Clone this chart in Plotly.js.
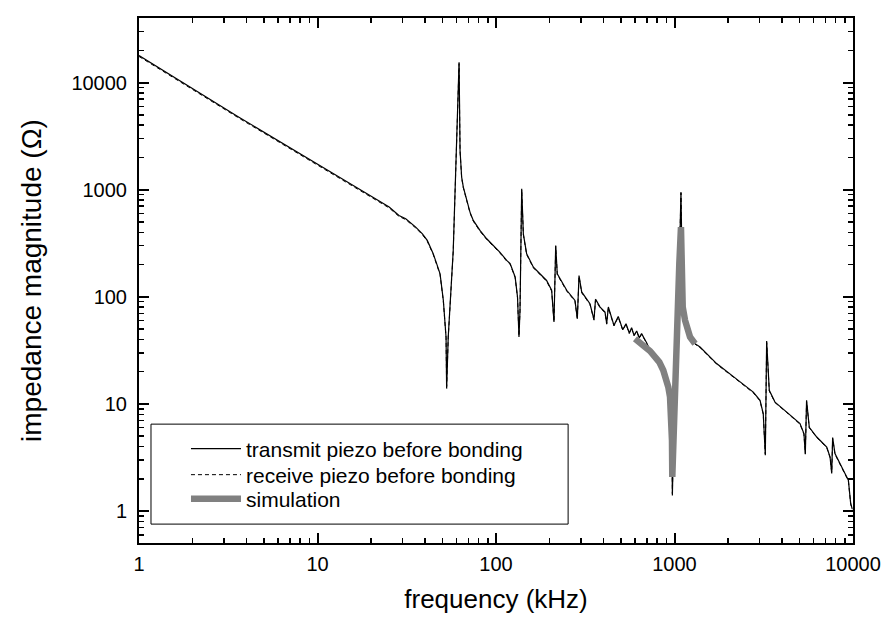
<!DOCTYPE html>
<html>
<head>
<meta charset="utf-8">
<script src="https://cdn.plot.ly/plotly-3.0.1.min.js"></script>
<style>html,body{margin:0;padding:0;background:#fff;}#chart{width:885px;height:617px;}</style>
</head>
<body>
<div id="chart"></div>
<script>
// frequency (kHz) and impedance magnitude (ohm)
const freq = [1, 3.63, 13.2, 20.3, 25.2, 28.6, 31.2, 35.5, 38.7, 41.2,
  44.5, 46.5, 48.6, 50.7, 52.5, 52.9, 54.0, 57.6, 60.2, 62.1,
  62.9, 64.2, 65.6, 68.5, 71.5, 74.6, 81.3, 88.7, 96.6, 105,
  114.8, 120, 128, 132, 134.5, 136.3, 139.3, 142.3, 148.5, 162,
  192, 205, 211.3, 216, 220.4, 249, 277, 285.5, 291.8, 302,
  336, 354, 361, 383, 408, 417, 426, 444, 458, 484,
  506, 513, 535, 558, 575, 593, 614, 635, 654, 699,
  729, 778, 822, 865, 896, 923, 944, 952, 968, 973,
  993, 1028, 1064, 1087, 1102, 1112, 1146, 1183, 1222, 1303,
  1390, 1722, 2275, 2763, 3013, 3142, 3227, 3283, 3396, 3656,
  4254, 5047, 5311, 5405, 5495, 5690, 6264, 7125, 7437, 7600,
  7690, 7925, 8830, 9420, 9710, 9900];

const transmitZ = [17860, 4745, 1309, 851, 687, 574, 535, 447, 387, 336,
  252, 204, 164, 92.5, 42.1, 13.9, 42.1, 271, 2323, 15460,
  2323, 1309, 1055, 793, 617, 516, 416, 348, 301, 261,
  219, 204, 153, 99.3, 42.1, 75.5, 1019, 387, 252, 189,
  142, 115, 58.1, 301, 164, 115, 92.5, 62.5, 158, 111,
  86.1, 61.1, 95, 80.2, 71.9, 56.1, 80.2, 64.7, 54.1, 65.6,
  54.1, 49.3, 56.1, 45.9, 51.5, 43.7, 47.9, 41.5, 45.3, 37.1,
  31.5, 27.4, 24.6, 20.6, 17.8, 14.4, 11.6, 9.35, 4.57, 1.40,
  8.11, 48.6, 204, 948, 115, 80.2, 60.3, 48.6, 42.1, 36.5,
  34.0, 23.8, 16.6, 12.9, 10.8, 8.11, 3.32, 38.6, 13.4, 10.4,
  8.39, 6.55, 5.28, 3.39, 10.8, 6.05, 4.91, 3.96, 3.20, 2.24,
  4.85, 3.44, 2.40, 1.94, 1.17, 1.05];

const receiveZ = [17500, 4650, 1285, 835, 675, 563, 525, 439, 380, 330,
  248, 200, 161, 91, 41.5, 14.5, 41.5, 266, 2280, 15000,
  2280, 1290, 1040, 780, 607, 508, 409, 343, 296, 257,
  215, 201, 151, 98, 43, 74, 1000, 380, 248, 186,
  140, 113, 58.5, 295, 161, 113, 91, 62, 155, 109,
  85, 60.5, 93, 79, 71, 55.5, 79, 64, 53.5, 64.5,
  53.5, 48.8, 55.5, 45.4, 51, 43.3, 47.4, 41.1, 44.8, 36.7,
  31.1, 27.1, 24.3, 20.4, 17.6, 14.2, 11.4, 9.2, 4.5, 1.45,
  8.0, 48, 201, 930, 113, 79, 59.6, 48.1, 41.6, 36.1,
  33.6, 23.5, 16.4, 12.7, 10.7, 8.0, 3.4, 37.5, 13.2, 10.3,
  8.3, 6.48, 5.22, 3.45, 10.5, 5.98, 4.86, 3.92, 3.17, 2.3,
  4.75, 3.4, 2.37, 1.92, 1.16, 1.04];

const simFreq = [601, 641, 684, 729, 778, 822, 865, 896, 923, 944, 952, 968, 972,
  993, 1028, 1064, 1087, 1102, 1112, 1146, 1183, 1222, 1303];
const simZ = [40.6, 37.8, 34.0, 31.2, 27.4, 24.6, 20.6, 17.8, 14.4, 11.6, 9.35, 4.57, 2.08,
  8.11, 48.6, 204, 447, 115, 80.2, 60.3, 48.6, 42.1, 36.5];

const tickVals = [1, 10, 100, 1000, 10000];
const tickText = ['1', '10', '100', '1000', '10000'];
const seriesNames = ['transmit piezo before bonding', 'receive piezo before bonding', 'simulation'];

const FONT = 'Liberation Sans, Arial, sans-serif';

const traces = [
  {x: freq, y: transmitZ, type: 'scatter', mode: 'lines', name: seriesNames[0], legend: 'legend',
   line: {color: '#000', width: 1.2}},
  {x: freq, y: receiveZ, type: 'scatter', mode: 'lines', name: seriesNames[1], legend: 'legend2',
   line: {color: '#000', width: 1, dash: '4px,3px'}},
  {x: simFreq, y: simZ, type: 'scatter', mode: 'lines', name: seriesNames[2], legend: 'legend3',
   line: {color: '#808080', width: 6.5}}
];

function axis(title, range) {
  return {
    type: 'log', range: range, showgrid: false, zeroline: false,
    showline: true, linecolor: '#000', linewidth: 2, mirror: 'ticks',
    ticks: 'inside', ticklen: 10, tickwidth: 2, tickcolor: '#000',
    tickvals: tickVals, ticktext: tickText,
    tickfont: {family: FONT, size: 20, color: '#000'},
    minor: {ticks: 'inside', ticklen: 5, tickwidth: 1.5, tickcolor: '#000', dtick: 'D1', showgrid: false},
    title: {text: title, font: {family: FONT, size: 26, color: '#000'}}
  };
}

function legendBox(yc) {
  return {x: 0.0658, y: yc, xanchor: 'left', yanchor: 'middle',
    bgcolor: 'rgba(0,0,0,0)', borderwidth: 0, itemwidth: 50,
    font: {family: FONT, size: 21, color: '#000'}};
}

const layout = {
  width: 885, height: 617,
  margin: {l: 139, r: 32, t: 18, b: 74},
  paper_bgcolor: '#fff', plot_bgcolor: '#fff',
  font: {family: FONT, color: '#000'},
  showlegend: true,
  legend: legendBox(0.179),
  legend2: legendBox(0.1295),
  legend3: legendBox(0.0838),
  shapes: [{type: 'rect', xref: 'paper', yref: 'paper', x0: 0.0168, x1: 0.601, y0: 0.036, y1: 0.2264,
    line: {color: '#000', width: 1}, fillcolor: 'rgba(0,0,0,0)'}],
  xaxis: axis('frequency (kHz)', [0, 4]),
  yaxis: axis('impedance magnitude (Ω)', [-0.298, 4.602])
};
layout.yaxis.title.font.size = 28;
layout.xaxis.title.standoff = 16;
layout.yaxis.title.standoff = 22;
layout.yaxis.ticklabelstandoff = 6;
layout.xaxis.ticklabelstandoff = 2;

Plotly.newPlot('chart', traces, layout, {displayModeBar: false, staticPlot: true});
</script>
</body>
</html>
